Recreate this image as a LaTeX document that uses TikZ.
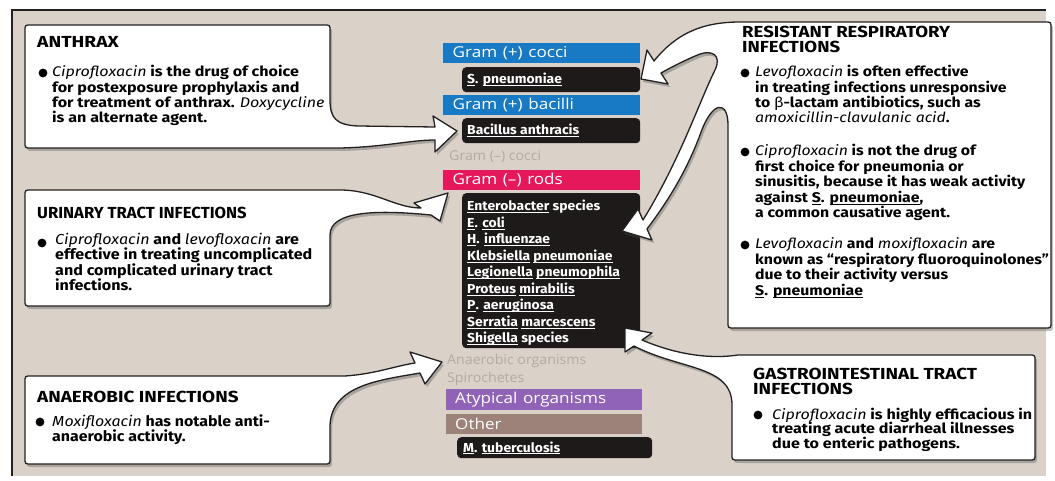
\documentclass[tikz,border=0pt]{standalone}
\usepackage{graphicx}
\usepackage{fontspec}
\setmainfont{Fira Sans}
\newfontfamily\midfont{Open Sans}
\usetikzlibrary{shadows}
\newcommand\uln[1]{\setbox0\hbox{#1}\rlap{\rule[-2.3pt]{\wd0}{0.9pt}}\box0\relax}
\newcommand\lns[1]{\vtop{\halign{##\hfil\cr#1\crcr}}}
\newcommand\sx[2]{\scalebox{#1}[1]{#2}}
\definecolor{bg}{RGB}{218,210,200}
\definecolor{gblue}{RGB}{24,122,196}
\definecolor{gpink}{RGB}{230,24,92}
\definecolor{gpurple}{RGB}{144,98,184}
\definecolor{gbrown}{RGB}{156,130,120}
\definecolor{blk}{RGB}{30,26,26}
\definecolor{gtext}{RGB}{178,171,163}
\definecolor{outl}{RGB}{35,32,32}
\tikzset{
  callout/.style={fill=white, draw=outl, line width=1.3pt, line join=round,
    drop shadow={shadow xshift=2pt, shadow yshift=-3pt, opacity=0.35, fill=black!70}},
  head/.style={anchor=base west, inner sep=0pt,
    font=\bfseries\fontsize{16}{15}\selectfont},
  body/.style={anchor=base west, inner sep=0pt,
    font=\bfseries\fontsize{14}{13.7}\selectfont},
  bar/.style={anchor=north west, inner xsep=9pt, inner ysep=0pt, minimum height=20pt,
    text width=178pt, align=left, text=white, font=\midfont\fontsize{15}{15}\selectfont},
  orgbox/.style={anchor=north west, fill=blk, rounded corners=4pt, inner sep=0pt},
  org/.style={anchor=base west, inner sep=0pt, text=white,
    font=\bfseries\fontsize{13}{16.5}\selectfont},
  grey/.style={anchor=west, inner sep=0pt, text=gtext, font=\midfont\fontsize{13.5}{13.5}\selectfont},
  bul/.style={fill=black}
}
\begin{document}
\begin{tikzpicture}[x=1pt,y=-1pt]
\useasboundingbox (0,0) rectangle (1055,481);
\fill[white] (0,0) rectangle (1055,481);
\fill[bg] (12,10) rectangle (1046,476);
\draw[outl, line width=1.2pt] (12,476) -- (12,10) -- (1046,10);

% ---------- middle column ----------
\node[bar, fill=gblue, minimum width=197pt] (gpc) at (443,43) {\sx{1.14}{Gram (+) cocci}};
\node[orgbox, minimum width=178pt, minimum height=25pt] (spbox) at (462,67) {};
\node[org] (sp) at (467,84) {\sx{1.07}{\uln{S}. \uln{pneumoniae}}};
\node[bar, fill=gblue, minimum width=197pt] (gpb) at (443,95) {\sx{1.14}{Gram (+) bacilli}};
\node[orgbox, minimum width=178pt, minimum height=25pt] (babox) at (462,118) {};
\node[org] (ba) at (467,135) {\sx{1.07}{\uln{Bacillus anthracis}}};
\node[grey] (gnc) at (449,157) {\sx{1.05}{Gram (–) cocci}};
\node[bar, fill=gpink, minimum width=197pt] (gnr) at (443,170) {\sx{1.14}{Gram (–) rods}};
\node[orgbox, minimum width=178pt, minimum height=155pt] (gnbox) at (462,193) {};
\node[org] (gnlist) at (467,211) {\sx{1.07}{\lns{\uln{Enterobacter} species\cr
  \uln{E}. \uln{coli}\cr
  \uln{H}. \uln{influenzae}\cr
  \uln{Klebsiella} \uln{pneumoniae}\cr
  \uln{Legionella} \uln{pneumophila}\cr
  \uln{Proteus} \uln{mirabilis}\cr
  \uln{P}. \uln{aeruginosa}\cr
  \uln{Serratia} \uln{marcescens}\cr
  \uln{Shigella} species}}};
\node[grey] (anorg) at (447,361) {\sx{1.05}{Anaerobic organisms}};
\node[grey] (spiro) at (447,379) {\sx{1.05}{Spirochetes}};
\node[bar, fill=gpurple, minimum width=196pt, minimum height=21pt] (atyp) at (446,389) {\sx{1.14}{Atypical organisms}};
\node[bar, fill=gbrown, minimum width=196pt] (other) at (446,414) {\sx{1.14}{Other}};
\node[orgbox, minimum width=195pt, minimum height=21pt] (mtbox) at (457,437) {};
\node[org] (mt) at (463,452) {\sx{1.07}{\uln{M}. \uln{tuberculosis}}};

% ---------- left callouts ----------
% Anthrax
\path[callout] (330,100) -- (330,31) .. controls (330,25) .. (324,25) -- (31,25)
  .. controls (25,25) .. (25,31) -- (25,142) .. controls (25,148) .. (31,148)
  -- (340,148) .. controls (385,147) and (410,140) .. (435,140)
  -- (435,152) -- (457,131) -- (433,116) -- (435,127)
  -- (358,126) .. controls (336,125) and (330,118) .. (330,100) -- cycle;
\node[head] (anthraxh) at (37,48) {\sx{1.2}{ANTHRAX}};
\fill[bul] (43,73) circle (4.4pt);
\node[body] (anthraxb) at (52,77) {\sx{1.15}{\lns{\textit{\mdseries Ciprofloxacin} is the drug of choice\cr
  for postexposure prophylaxis and\cr
  for treatment of anthrax. \textit{\mdseries Doxycycline}\cr
  is an alternate agent.}}};

% Urinary
\path[callout] (340,190) .. controls (375,190) and (395,208) .. (421,208)
  -- (414,203) -- (448,193) -- (440,221) -- (431,215)
  .. controls (380,210) and (330,210) .. (330,235)
  -- (330,300) .. controls (330,306) .. (324,306) -- (31,306)
  .. controls (25,306) .. (25,300) -- (25,196) .. controls (25,190) .. (31,190) -- cycle;
\node[head] (utih) at (37,219) {\sx{1.04}{URINARY TRACT INFECTIONS}};
\fill[bul] (42,243) circle (4.4pt);
\node[body, font=\bfseries\fontsize{14.5}{15.5}\selectfont] (utib) at (55,244)
  {\sx{1.11}{\lns{\textit{\mdseries Ciprofloxacin} and \textit{\mdseries levofloxacin} are\cr
  effective in treating uncomplicated\cr
  and complicated urinary tract\cr
  infections.}}};

% Anaerobic
\path[callout] (345,376) .. controls (375,374) and (395,366) .. (415,363)
  -- (410,352) -- (442,362) -- (425,384) -- (420,373)
  .. controls (380,380) and (332,385) .. (330,425)
  -- (330,458) .. controls (330,464) .. (324,464) -- (31,464)
  .. controls (25,464) .. (25,458) -- (25,382) .. controls (25,376) .. (31,376) -- cycle;
\node[head] (anaeh) at (37,402) {\sx{1.18}{ANAEROBIC INFECTIONS}};
\fill[bul] (40,422) circle (4.4pt);
\node[body, font=\bfseries\fontsize{14.5}{15}\selectfont] (anaeb) at (52,426)
  {\sx{1.1}{\lns{\textit{\mdseries Moxifloxacin} has notable anti-\cr anaerobic activity.}}};

% ---------- right callouts ----------
% Resistant respiratory
\path[callout] (740,22) -- (1045,22) .. controls (1051,22) .. (1051,28)
  -- (1051,322) .. controls (1051,328) .. (1045,328) -- (734,328)
  .. controls (728,328) .. (728,322) -- (728,125)
  .. controls (728,100) and (712,100) .. (700,135)
  .. controls (685,175) and (665,205) .. (647,229)
  -- (652,240) -- (622,231) -- (638,209) -- (643,220)
  .. controls (680,160) and (700,100) .. (715,70)
  .. controls (722,55) and (712,50) .. (700,54)
  .. controls (685,60) and (670,68) .. (661,73)
  -- (668,84) -- (641,79) -- (647,50) -- (654,61)
  .. controls (675,35) and (700,22) .. (740,22) -- cycle;
\node[head] (resh) at (742,38) {\sx{1.16}{\lns{RESISTANT RESPIRATORY\cr INFECTIONS}}};
\fill[bul] (745,73) circle (4.4pt);
\node[body] (resb1) at (755,77) {\sx{1.13}{\lns{\textit{\mdseries Levofloxacin} is often effective\cr
  in treating infections unresponsive\cr
  to {\mdseries β}-lactam antibiotics, such as\cr
  \textit{\mdseries amoxicillin-clavulanic acid}.}}};
\fill[bul] (745,152) circle (4.4pt);
\node[body] (resb2) at (755,156) {\sx{1.13}{\lns{\textit{\mdseries Ciprofloxacin} is not the drug of\cr
  first choice for pneumonia or\cr
  sinusitis, because it has weak activity\cr
  against \uln{S}. \uln{pneumoniae},\cr
  a common causative agent.}}};
\fill[bul] (745,245) circle (4.4pt);
\node[body] (resb3) at (755,249) {\sx{1.13}{\lns{\textit{\mdseries Levofloxacin} and \textit{\mdseries moxifloxacin} are\cr
  known as “respiratory fluoroquinolones”\cr
  due to their activity versus\cr
  \uln{S}. \uln{pneumoniae}}}};

% Gastrointestinal
\path[callout] (738,355) -- (1029,355) .. controls (1035,355) .. (1035,361)
  -- (1035,454) .. controls (1035,460) .. (1029,460) -- (738,460)
  .. controls (732,460) .. (732,454) -- (732,405)
  .. controls (732,365) and (680,370) .. (634,346)
  -- (625,352) -- (625,328) -- (652,333) -- (642,340)
  .. controls (670,352) and (705,360) .. (738,355) -- cycle;
\node[head] (gih) at (753,379) {\sx{1.18}{\lns{GASTROINTESTINAL TRACT\cr INFECTIONS}}};
\fill[bul] (758,415) circle (4.4pt);
\node[body, font=\bfseries\fontsize{14}{14.5}\selectfont] (gib) at (772,419)
  {\sx{1.15}{\lns{\textit{\mdseries Ciprofloxacin} is highly efficacious in\cr
  treating acute diarrheal illnesses\cr
  due to enteric pathogens.}}};
\end{tikzpicture}
\end{document}
